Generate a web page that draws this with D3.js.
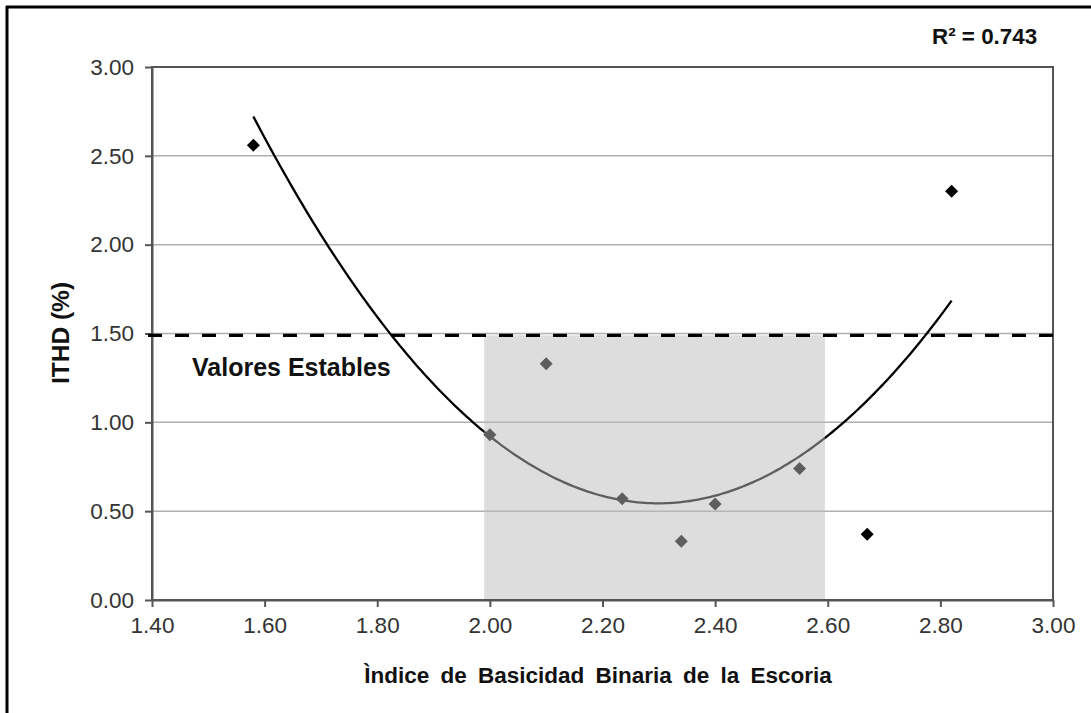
<!DOCTYPE html>
<html>
<head>
<meta charset="utf-8">
<script src="https://cdn.jsdelivr.net/npm/d3@7"></script>
<style>
  html, body { margin: 0; padding: 0; background: #fff; }
  svg { display: block; font-family: "Liberation Sans", Arial, sans-serif; }
</style>
</head>
<body>
<svg id="chart" width="1091" height="713"></svg>
<script>
// ---- data ----
const basicity = [1.58, 2.00, 2.10, 2.235, 2.34, 2.40, 2.55, 2.67, 2.82];
const ithd     = [2.56, 0.93, 1.33, 0.57, 0.33, 0.54, 0.74, 0.37, 2.30];
const xTicks = [1.40, 1.60, 1.80, 2.00, 2.20, 2.40, 2.60, 2.80, 3.00];
const yTicks = [0.00, 0.50, 1.00, 1.50, 2.00, 2.50, 3.00];
const stableLimit = [1.49];          // dashed threshold
const stableRange = [1.99, 2.595];   // shaded region on x
const rSquaredLabel = ["R² = 0.743"];
const xTitle = ["Ìndice de Basicidad Binaria de la Escoria"];
const yTitle = ["ITHD (%)"];
const bandLabel = ["Valores Estables"];

// ---- layout ----
const W = 1091, H = 713;
const L = 152, R = 1053, T = 67, B = 600;
const svg = d3.select("#chart");

const x = d3.scaleLinear().domain([1.4, 3.0]).range([L, R]);
const y = d3.scaleLinear().domain([0, 3.0]).range([B, T]);

// outer frame (left and top visible)
svg.append("line").attr("x1", 7).attr("x2", 7).attr("y1", 6).attr("y2", H)
  .attr("stroke", "#000").attr("stroke-width", 3);
svg.append("line").attr("x1", 6).attr("x2", W).attr("y1", 7).attr("y2", 7)
  .attr("stroke", "#000").attr("stroke-width", 3);

// gridlines
svg.append("g").selectAll("line").data(yTicks.filter(d => d > 0)).join("line")
  .attr("x1", L).attr("x2", R)
  .attr("y1", d => y(d)).attr("y2", d => y(d))
  .attr("stroke", "#b0b0b0").attr("stroke-width", 1.5);

// quadratic least-squares trendline from the data
function polyfit2(xs, ys) {
  const n = xs.length;
  let s = [0,0,0,0,0], t = [0,0,0];
  for (let i = 0; i < n; i++) {
    for (let k = 0; k < 5; k++) s[k] += Math.pow(xs[i], k);
    for (let k = 0; k < 3; k++) t[k] += ys[i] * Math.pow(xs[i], k);
  }
  const M = [[s[0], s[1], s[2], t[0]], [s[1], s[2], s[3], t[1]], [s[2], s[3], s[4], t[2]]];
  for (let c = 0; c < 3; c++) {
    for (let r = c + 1; r < 3; r++) {
      const f = M[r][c] / M[c][c];
      for (let k = c; k < 4; k++) M[r][k] -= f * M[c][k];
    }
  }
  const a = [0,0,0];
  for (let r = 2; r >= 0; r--) {
    let v = M[r][3];
    for (let k = r + 1; k < 3; k++) v -= M[r][k] * a[k];
    a[r] = v / M[r][r];
  }
  return a;
}
const coef = polyfit2(basicity, ithd);
const xMin = d3.min(basicity), xMax = d3.max(basicity);
const curvePts = d3.range(0, 201).map(i => {
  const xv = xMin + (xMax - xMin) * i / 200;
  return [xv, coef[0] + coef[1] * xv + coef[2] * xv * xv];
});
svg.append("path").datum(curvePts)
  .attr("d", d3.line().x(d => x(d[0])).y(d => y(d[1])))
  .attr("fill", "none").attr("stroke", "#000").attr("stroke-width", 2.3);

// diamonds
const diamond = s => `M0,${-s}L${s},0L0,${s}L${-s},0Z`;
svg.append("g").selectAll("path").data(basicity.map((b, i) => [b, ithd[i]])).join("path")
  .attr("transform", d => `translate(${x(d[0])},${y(d[1])})`)
  .attr("d", diamond(6.5))
  .attr("fill", "#000");

// semi-transparent shaded stable region
svg.append("rect")
  .attr("x", x(stableRange[0])).attr("width", x(stableRange[1]) - x(stableRange[0]))
  .attr("y", y(stableLimit[0])).attr("height", y(0) - y(stableLimit[0]))
  .attr("fill", "rgb(188,188,188)").attr("fill-opacity", 0.5);

// plot border and axes
svg.append("rect").attr("x", L).attr("y", T).attr("width", R - L).attr("height", B - T)
  .attr("fill", "none").attr("stroke", "#555").attr("stroke-width", 2);

const xAxis = d3.axisBottom(x).tickValues(xTicks).tickFormat(d3.format(".2f"))
  .tickSizeInner(7).tickSizeOuter(0).tickPadding(10);
const gx = svg.append("g").attr("transform", `translate(0,${B})`).call(xAxis);
gx.select(".domain").attr("stroke", "#555").attr("stroke-width", 2);
gx.selectAll(".tick line").attr("stroke", "#555").attr("stroke-width", 2);
gx.selectAll(".tick text").attr("font-size", 22.5).attr("fill", "#333")
  .attr("font-family", "Liberation Sans, Arial, sans-serif").attr("dy", "0.71em");

const yAxis = d3.axisLeft(y).tickValues(yTicks).tickFormat(d3.format(".2f"))
  .tickSizeInner(7).tickSizeOuter(0).tickPadding(11);
const gy = svg.append("g").attr("transform", `translate(${L},0)`).call(yAxis);
gy.select(".domain").attr("stroke", "#555").attr("stroke-width", 2);
gy.selectAll(".tick line").attr("stroke", "#555").attr("stroke-width", 2);
gy.selectAll(".tick text").attr("font-size", 22.5).attr("fill", "#333")
  .attr("font-family", "Liberation Sans, Arial, sans-serif");

// dashed threshold
svg.append("line")
  .attr("x1", L - 4).attr("x2", R + 4)
  .attr("y1", y(stableLimit[0])).attr("y2", y(stableLimit[0]))
  .attr("stroke", "#000").attr("stroke-width", 3.2)
  .attr("stroke-dasharray", "14,13");

// texts
svg.append("text").attr("x", 192).attr("y", 376)
  .attr("font-size", 25).attr("font-weight", "bold").attr("fill", "#111")
  .text(bandLabel[0]);

svg.append("text").attr("x", 932).attr("y", 44)
  .attr("font-size", 22.4).attr("font-weight", "bold").attr("fill", "#111")
  .text(rSquaredLabel[0]);

svg.append("text").attr("x", 598).attr("y", 683).attr("text-anchor", "middle")
  .attr("font-size", 22.5).attr("font-weight", "bold").attr("fill", "#111")
  .attr("word-spacing", 5)
  .text(xTitle[0]);

svg.append("text").attr("transform", "translate(69,333) rotate(-90)")
  .attr("text-anchor", "middle")
  .attr("font-size", 24.5).attr("font-weight", "bold").attr("fill", "#111")
  .text(yTitle[0]);
</script>
</body>
</html>
